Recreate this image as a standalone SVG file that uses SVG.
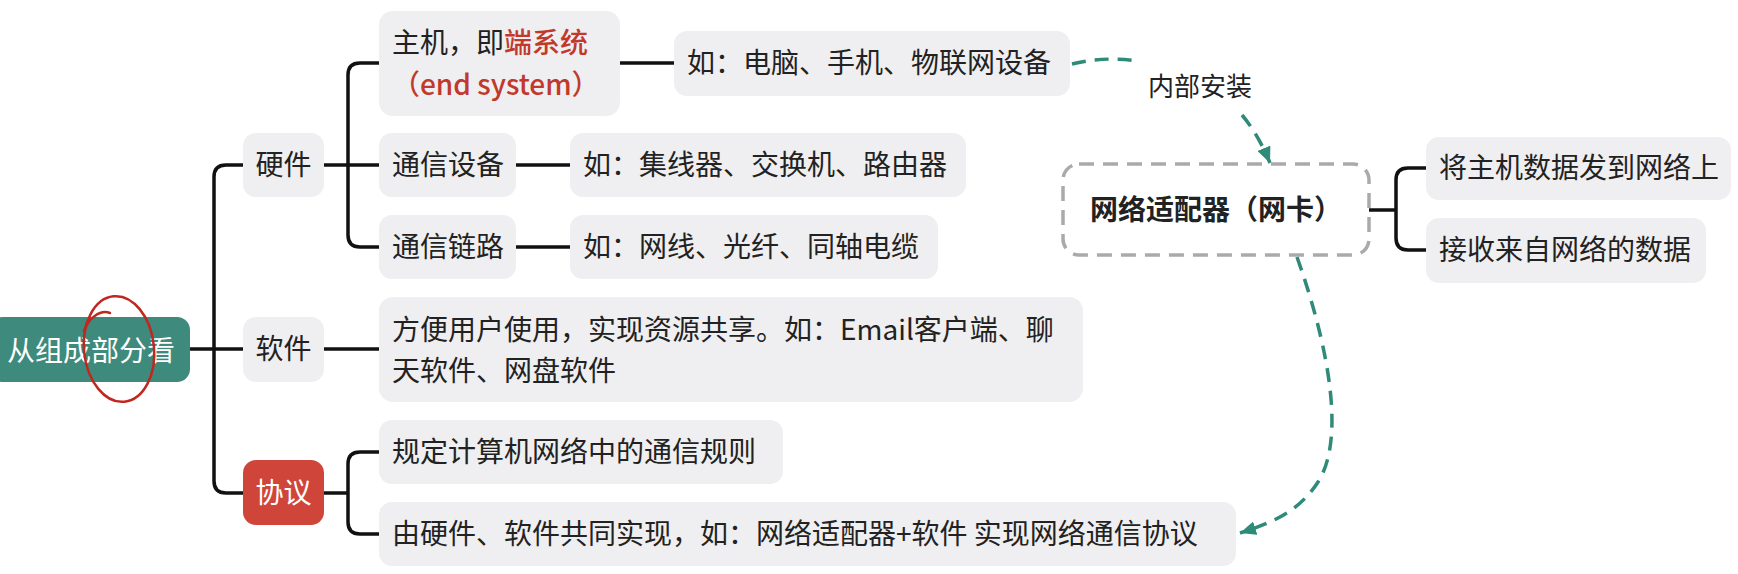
<svg xmlns="http://www.w3.org/2000/svg" width="1738" height="574" viewBox="0 0 1738 574">
<defs>
<style>
text{font-family:"Noto Sans CJK SC","Noto Sans",sans-serif;font-size:28px;fill:#222;}
.box{fill:#efeef0;}
.c{fill:none;stroke:#111;stroke-width:3.5;stroke-linejoin:round;}
.d{fill:none;stroke:#2e8a79;stroke-width:3.5;stroke-dasharray:14 9;}
.red{fill:#c0392b;font-weight:500;}
.w{fill:#fff;}
</style>
<marker id="ah" viewBox="0 0 16 14" refX="16" refY="7" markerWidth="16" markerHeight="14" markerUnits="userSpaceOnUse" orient="auto">
<path d="M0,0 L16,7 L0,14 Z" fill="#2e8a79"/>
</marker>
</defs>
<rect width="1738" height="574" fill="#fff"/>

<g id="connectors">
<path class="c" d="M188,349 H243"/>
<path class="c" d="M243,165 H226 Q214,165 214,177 V481 Q214,493 226,493 H243"/>
<path class="c" d="M324,165 H379"/>
<path class="c" d="M379,63 H360 Q348,63 348,75 V235 Q348,247 360,247 H379"/>
<path class="c" d="M620,63 H674"/>
<path class="c" d="M516,165 H570"/>
<path class="c" d="M516,247 H570"/>
<path class="c" d="M324,349 H379"/>
<path class="c" d="M324,493 H348"/>
<path class="c" d="M379,452 H360 Q348,452 348,464 V522 Q348,534 360,534 H379"/>
<path class="c" d="M1369,210 H1396"/>
<path class="c" d="M1426,168 H1408 Q1396,168 1396,180 V238 Q1396,250 1408,250 H1426"/>
<path class="d" d="M1072,64 Q1105,56 1138,61"/>
<path class="d" d="M1242,115 Q1258,134 1270,163" marker-end="url(#ah)"/>
<path class="d" d="M1297,257 C1330,350 1345,440 1318,482 C1300,510 1275,522 1240,533" marker-end="url(#ah)"/>
</g>

<g id="edge-label">
<text x="1200" y="96" text-anchor="middle" style="font-size:26px">内部安装</text>
</g>

<g id="root">
<rect x="-10" y="317" width="200" height="65" rx="13" fill="#3e8a7c"/>
<text class="w" x="91" y="361" text-anchor="middle">从组成部分看</text>
</g>

<g id="hardware">
<rect class="box" x="243" y="133" width="81" height="64" rx="13"/>
<text x="283.5" y="175" text-anchor="middle">硬件</text>
</g>
<g id="software">
<rect class="box" x="243" y="317" width="81" height="65" rx="13"/>
<text x="283.5" y="359" text-anchor="middle">软件</text>
</g>
<g id="protocol">
<rect x="243" y="460" width="81" height="65" rx="13" fill="#d0453a"/>
<text class="w" x="283.5" y="503" text-anchor="middle">协议</text>
</g>

<g id="host">
<rect class="box" x="379" y="11" width="241" height="105" rx="14"/>
<text x="392" y="53">主机，即<tspan class="red">端系统</tspan></text>
<text class="red" x="392" y="95">（end system）</text>
</g>
<g id="comm-device">
<rect class="box" x="379" y="133" width="137" height="64" rx="13"/>
<text x="392" y="175">通信设备</text>
</g>
<g id="comm-link">
<rect class="box" x="379" y="215" width="137" height="64" rx="13"/>
<text x="392" y="257">通信链路</text>
</g>
<g id="host-eg">
<rect class="box" x="674" y="31" width="396" height="65" rx="13"/>
<text x="687" y="73">如：电脑、手机、物联网设备</text>
</g>
<g id="device-eg">
<rect class="box" x="570" y="133" width="396" height="64" rx="13"/>
<text x="583" y="175">如：集线器、交换机、路由器</text>
</g>
<g id="link-eg">
<rect class="box" x="570" y="215" width="368" height="64" rx="13"/>
<text x="583" y="257">如：网线、光纤、同轴电缆</text>
</g>
<g id="software-desc">
<rect class="box" x="379" y="297" width="704" height="105" rx="14"/>
<text x="392" y="340">方便用户使用，实现资源共享。如：Email客户端、聊</text>
<text x="392" y="381">天软件、网盘软件</text>
</g>
<g id="protocol-rule">
<rect class="box" x="379" y="420" width="404" height="64" rx="13"/>
<text x="392" y="462">规定计算机网络中的通信规则</text>
</g>
<g id="protocol-impl">
<rect class="box" x="379" y="502" width="857" height="64" rx="13"/>
<text x="392" y="544">由硬件、软件共同实现，如：网络适配器+软件 实现网络通信协议</text>
</g>

<g id="nic">
<rect x="1063" y="164" width="306" height="91" rx="16" fill="#fff" stroke="#aaa" stroke-width="3.5" stroke-dasharray="15 9"/>
<text x="1216" y="220" text-anchor="middle" style="font-weight:600">网络适配器（网卡）</text>
</g>
<g id="nic-send">
<rect class="box" x="1426" y="137" width="305" height="63" rx="13"/>
<text x="1439" y="178">将主机数据发到网络上</text>
</g>
<g id="nic-recv">
<rect class="box" x="1426" y="218" width="280" height="65" rx="13"/>
<text x="1439" y="260">接收来自网络的数据</text>
</g>

<g id="annotation" fill="none" stroke="#c0271f" stroke-width="2.5" stroke-linecap="round">
<ellipse cx="119" cy="349" rx="35" ry="53" transform="rotate(-6 119 349)"/>
<path d="M84,331 C88,319 100,309 110,313"/>
</g>
</svg>
